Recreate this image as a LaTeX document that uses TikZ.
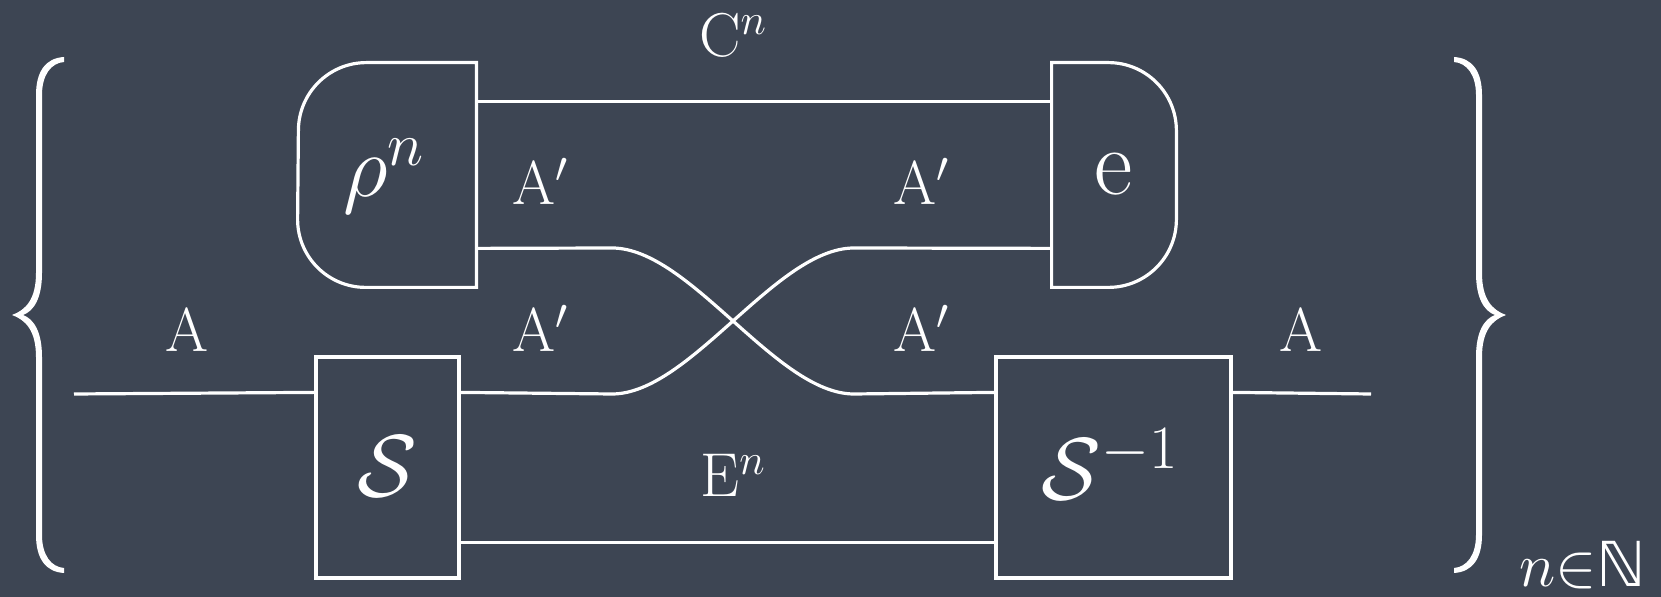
\RequirePackage{fix-cm}
\documentclass[tikz,border=0pt]{standalone}
\usepackage{fontspec}
\newfontfamily\symfnt{DejaVu Sans}
\definecolor{board}{RGB}{61,69,83}
\newcommand{\bracepath}{(52,-258) .. controls (34,-257) and (24,-244) .. (24,-220)
  -- (24,-42) .. controls (24,-16) and (14,-5) .. (0,0)
  .. controls (14,5) and (24,16) .. (24,42)
  -- (24,220) .. controls (24,244) and (34,257) .. (52,258)
  -- (52,253) .. controls (39,252) and (30,240) .. (30,220)
  -- (30,42) .. controls (30,17) and (22,4) .. (11,0)
  .. controls (22,-4) and (30,-17) .. (30,-42)
  -- (30,-220) .. controls (30,-240) and (39,-252) .. (52,-253) -- cycle}
\begin{document}
\begin{tikzpicture}[x=0.5pt,y=-0.5pt,
  wire/.style={draw=white,line width=1.6pt},
  frame/.style={draw=white,line width=1.6pt,inner sep=0pt},
  hold/.style={draw=none,inner sep=0pt},
  lab/.style={text=white,inner sep=0pt,anchor=base,font=\fontsize{31}{36}\selectfont},
  biglab/.style={text=white,inner sep=0pt,anchor=base,font=\fontsize{44}{50}\selectfont},
  bracefill/.style={fill=white}]
\fill[board] (0,0) rectangle (1661,597);
\useasboundingbox (0,0) rectangle (1661,597);

% boxes
\node[hold,minimum width=89pt,minimum height=112pt] (rho) at (387,175) {};
\node[hold,minimum width=62pt,minimum height=112pt] (e) at (1114,175) {};
\node[frame,minimum width=71.5pt,minimum height=110.5pt] (S) at (387.5,467.5) {};
\node[frame,minimum width=117.5pt,minimum height=110.5pt] (Sinv) at (1113.5,467.5) {};

\draw[wire] (rho.north east) -- ([xshift=-55pt]rho.north east)
  arc[start angle=90,end angle=180,radius=34pt]
  -- ([yshift=34pt]rho.south west)
  arc[start angle=180,end angle=270,radius=34pt]
  -- (rho.south east) -- cycle;
\draw[wire] (e.north west) -- ([xshift=-34pt]e.north east)
  arc[start angle=90,end angle=0,radius=34pt]
  -- ([yshift=34pt]e.south east)
  arc[start angle=0,end angle=-90,radius=34pt]
  -- (e.south west) -- cycle;

% box labels
\node[biglab] (rhol) at (384,197) {$\rho^n$};
\node[biglab,font=\fontsize{47}{52}\selectfont] (el) at (1114,195) {$\mathrm{e}$};
\node[biglab] (Sl) at (387,497) {$\mathcal{S}$};
\node[biglab] (Sinvl) at (1110,500) {$\mathcal{S}^{-1}$};

% wires
\coordinate (inA) at (74,394);
\coordinate (outA) at (1371,394);
\coordinate (xa) at (612,248);
\coordinate (xb) at (854,394);
\coordinate (ya) at (612,394);
\coordinate (yb) at (854,248);
\draw[wire] (inA) -- ([yshift=-18.5pt]S.north west);
\draw[wire] ([yshift=-18.5pt]Sinv.north east) -- (outA);
\draw[wire] ([yshift=-19.5pt]rho.north east) -- ([yshift=-19.5pt]e.north west);
\draw[wire] ([yshift=18.5pt]S.south east) -- ([yshift=18.5pt]Sinv.south west);
\draw[wire] ([yshift=19.5pt]rho.south east) -- (xa)
  .. controls +(78,0) and +(-78,0) .. (xb) -- ([yshift=-18.5pt]Sinv.north west);
\draw[wire] ([yshift=-18.5pt]S.north east) -- (ya)
  .. controls +(78,0) and +(-78,0) .. (yb) -- ([yshift=19.5pt]e.south west);

% wire labels
\node[lab] (Cl) at (733,57) {$\mathrm{C}^n$};
\node[lab] (A1) at (540,205) {$\mathrm{A}'$};
\node[lab] (A2) at (921,205) {$\mathrm{A}'$};
\node[lab] (A3) at (187,352) {$\mathrm{A}$};
\node[lab] (A4) at (540,352) {$\mathrm{A}'$};
\node[lab] (A5) at (921,352) {$\mathrm{A}'$};
\node[lab] (A6) at (1301,352) {$\mathrm{A}$};
\node[lab] (El) at (733,497) {$\mathrm{E}^n$};

% braces
\fill[bracefill,shift={(12,315)}] \bracepath;
\fill[bracefill,shift={(1506,315)},xscale=-1] \bracepath;
\node[lab] (nN) at (1583,587) {$n{\in}${\symfnt ℕ}};
\end{tikzpicture}
\end{document}
